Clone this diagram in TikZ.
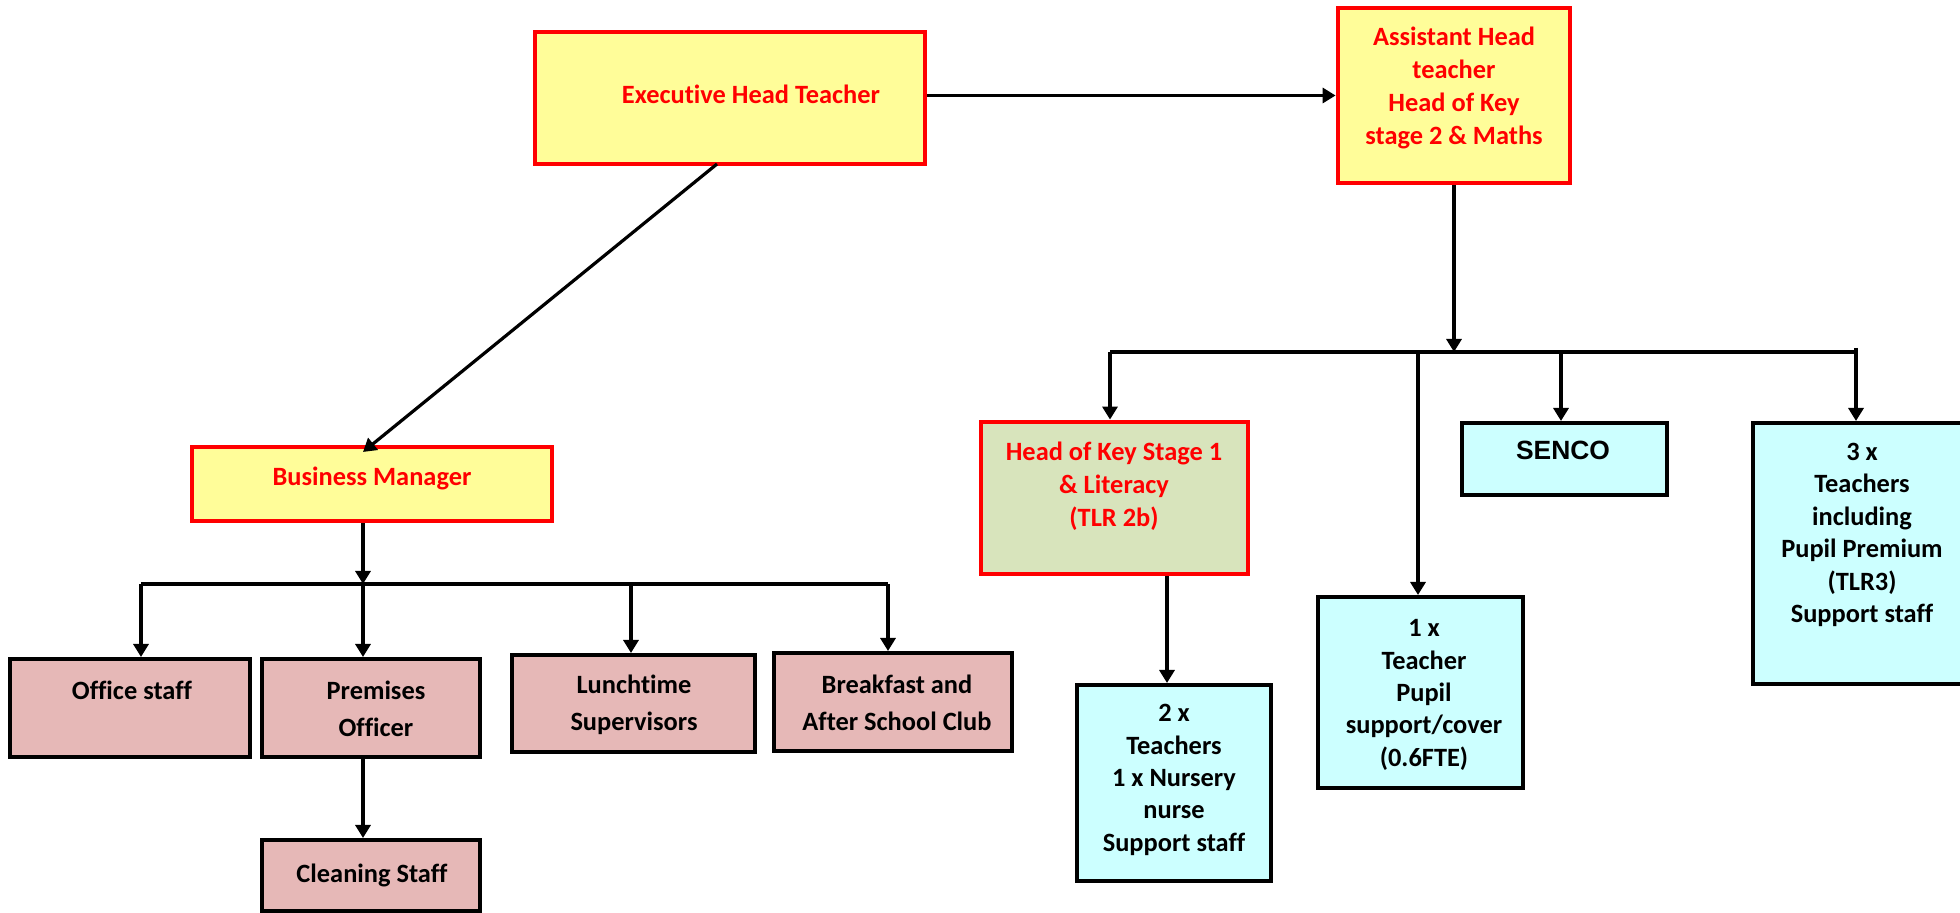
\documentclass[tikz,border=0pt]{standalone}
\usepackage{fontspec}
\setmainfont{Carlito}[Ligatures=NoCommon]
\newfontfamily\arialfont{Liberation Sans}
\usetikzlibrary{arrows.meta,calc}
\definecolor{boxred}{RGB}{255,0,0}
\definecolor{yel}{RGB}{255,253,153}
\definecolor{pinkfill}{RGB}{230,184,183}
\definecolor{cyanfill}{RGB}{204,255,255}
\definecolor{olivefill}{RGB}{216,228,188}
\begin{document}
\begin{tikzpicture}[x=0.5pt,y=-0.5pt,
  sz/.style 2 args={minimum width=#1*0.5pt, minimum height=#2*0.5pt},
  box/.style={rectangle, inner sep=0pt},
  yelbox/.style={box, draw=boxred, line width=2.4pt, fill=yel},
  olbox/.style={box, draw=boxred, line width=2.4pt, fill=olivefill},
  pinkbox/.style={box, draw=black, line width=2pt, fill=pinkfill},
  cyanbox/.style={box, draw=black, line width=2pt, fill=cyanfill},
  rtext/.style={align=center, inner sep=0pt, text=boxred, font=\fontsize{13.2}{16.4}\selectfont\bfseries},
  ktext/.style={align=center, inner sep=0pt, text=black, font=\fontsize{13.2}{16.2}\selectfont\bfseries},
  ptext/.style={align=center, inner sep=0pt, text=black, font=\fontsize{13.2}{18.5}\selectfont\bfseries},
  conn/.style={draw=black, line width=1.6pt},
  arr/.style={conn, -{Triangle[length=6.5pt,width=7.5pt]}}
]
\useasboundingbox (0,0) rectangle (1960,913);

% boxes
\node[yelbox, sz={390}{132}] (exec) at (730,98) {};
\node[yelbox, sz={232}{175}] (asst) at (1454,95.5) {};
\node[yelbox, sz={360}{74}] (bm) at (372,484) {};
\node[pinkbox, sz={240}{98}] (office) at (130,708) {};
\node[pinkbox, sz={218}{98}] (prem) at (371,708) {};
\node[pinkbox, sz={243}{97}] (lunch) at (633,703.5) {};
\node[pinkbox, sz={238}{98}] (bf) at (893,702) {};
\node[pinkbox, sz={218}{71}] (clean) at (371,875.5) {};
\node[olbox, sz={267}{152}] (ks1) at (1114.5,498) {};
\node[cyanbox, sz={205}{72}] (senco) at (1564.5,459) {};
\node[cyanbox, sz={194}{196}] (twox) at (1174,783) {};
\node[cyanbox, sz={205}{191}] (onex) at (1420.5,692.5) {};
\node[cyanbox, sz={218}{261}] (threex) at (1862,553.5) {};

% texts
\node[rtext] (exec-t) at (751,94) {Executive Head Teacher};
\node[rtext] (asst-t) at (1454,88) {Assistant Head\\teacher\\Head of Key\\stage 2 \& Maths};
\node[rtext] (bm-t) at (372,478) {Business Manager};
\node[ktext] (office-t) at (132,690) {Office staff};
\node[ptext] (prem-t) at (376,709) {Premises\\Officer};
\node[ptext] (lunch-t) at (634,705) {Lunchtime\\Supervisors};
\node[ptext] (bf-t) at (897,702.5) {Breakfast and\\After School Club};
\node[ktext] (clean-t) at (372,875) {Cleaning Staff};
\node[rtext] (ks1-t) at (1114,486) {Head of Key Stage 1\\\& Literacy\\(TLR 2b)};
\node[ktext, font=\arialfont\fontsize{13.2}{16}\selectfont\bfseries] (senco-t) at (1563,450) {SENCO};
\node[ktext] (twox-t) at (1174,780) {2 x\\Teachers\\1 x Nursery\\nurse\\Support staff};
\node[ktext] (onex-t) at (1424,695) {1 x\\Teacher\\Pupil\\support/cover\\(0.6FTE)};
\node[ktext] (threex-t) at (1862,535) {3 x\\Teachers\\including\\Pupil Premium\\(TLR3)\\Support staff};

% junction coordinates
\coordinate (lb1) at (141,584);
\coordinate (lb2) at (363,584);
\coordinate (lb3) at (631,584);
\coordinate (lb4) at (888,584);
\coordinate (rb0) at (1454,352);
\coordinate (rb1) at (1110,352);
\coordinate (rb2) at (1418,352);
\coordinate (rb3) at (1561,352);
\coordinate (rb4) at (1856,352);
\coordinate (rb4t) at (1856,348);
\coordinate (exs) at (717,164);
\coordinate (bmn) at (363,452);
\coordinate (ks1x) at (1167,0);

% connectors
\draw[arr] (exec.east |- asst) -- (asst.west);
\draw[arr] (exs) -- (bmn);
\draw[arr] (bm.south -| lb2) -- (lb2);
\draw[conn] (lb1) -- (lb4);
\draw[arr] (lb1) -- (lb1 |- office.north);
\draw[arr] (lb2) -- (lb2 |- prem.north);
\draw[arr] (lb3) -- (lb3 |- lunch.north);
\draw[arr] (lb4) -- (lb4 |- bf.north);
\draw[arr] (prem.south -| lb2) -- (lb2 |- clean.north);

\draw[arr] (asst.south) -- (rb0);
\draw[conn] (rb1) -- (rb4);
\draw[arr] (rb1) -- (rb1 |- ks1.north);
\draw[arr] (rb2) -- (rb2 |- onex.north);
\draw[arr] (rb3) -- (rb3 |- senco.north);
\draw[arr] (rb4t) -- (rb4t |- threex.north);
\draw[arr] (ks1.south -| ks1x) -- (ks1x |- twox.north);
\end{tikzpicture}
\end{document}
